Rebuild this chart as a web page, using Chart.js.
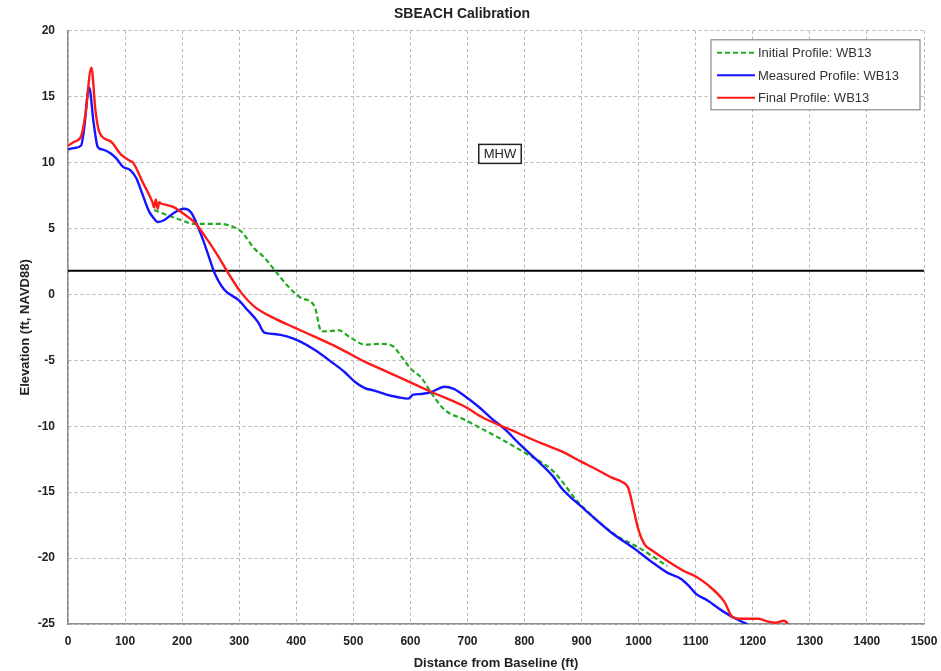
<!DOCTYPE html>
<html>
<head>
<meta charset="utf-8">
<title>SBEACH Calibration</title>
<script src="https://cdn.jsdelivr.net/npm/chart.js@4.4.0/dist/chart.umd.min.js"></script>
<style>
  html, body { margin: 0; padding: 0; background: #fff; }
  #wrap { width: 941px; height: 671px; }
</style>
</head>
<body>
<div id="wrap"><canvas id="profile-chart" width="941" height="671"></canvas></div>
<script>
// profile data (distance ft, elevation ft NAVD88)
const initialX = [151, 175, 198, 221, 245, 268, 291, 304, 326, 344, 361, 386, 408, 432, 444, 467, 473, 496, 520, 549, 570, 584, 602, 619, 637, 660, 695, 719, 760, 800, 850, 895, 958, 1000, 1050];
const initialY = [6.4, 6.0, 5.65, 5.35, 5.35, 5.35, 5.1, 4.75, 3.5, 2.8, 1.9, 0.6, -0.25, -0.9, -2.8, -2.75, -2.7, -3.3, -3.8, -3.75, -3.95, -4.7, -5.7, -6.3, -7.5, -8.76, -9.5, -10.05, -11.0, -12.0, -13.4, -15.8, -18.2, -19.2, -20.6];

const measuredX = [0, 10, 23, 28, 37, 45, 52, 60, 75, 85, 96, 110, 120, 128, 142, 150, 157, 169, 186, 203, 216, 228, 237, 245, 257, 274, 298, 315, 333, 344, 361, 385, 408, 432, 461, 485, 502, 520, 537, 558, 579, 596, 605, 619, 637, 660, 675, 695, 719, 742, 765, 790, 820, 850, 865, 905, 953, 993, 1020, 1050, 1075, 1090, 1100, 1120, 1150, 1170, 1190];
const measuredY = [11.0, 11.1, 11.3, 12.5, 15.7, 13.0, 11.2, 11.0, 10.7, 10.3, 9.7, 9.4, 8.8, 7.9, 6.3, 5.8, 5.5, 5.65, 6.2, 6.5, 6.2, 5.1, 4.1, 3.1, 1.6, 0.35, -0.4, -1.2, -2.1, -2.9, -3.0, -3.2, -3.6, -4.2, -5.1, -5.9, -6.6, -7.1, -7.3, -7.6, -7.8, -7.9, -7.6, -7.55, -7.4, -7.0, -7.15, -7.7, -8.5, -9.4, -10.2, -11.3, -12.5, -13.8, -14.7, -16.3, -18.1, -19.3, -20.2, -21.1, -21.6, -22.2, -22.7, -23.2, -24.1, -24.6, -25.0];

const finalX = [0, 12, 23, 30, 41, 48, 55, 75, 93, 110, 114, 131, 148, 151, 154, 157, 160, 163, 172, 186, 203, 221, 245, 263, 281, 304, 326, 361, 396, 432, 474, 520, 579, 637, 695, 725, 777, 830, 865, 900, 923, 953, 970, 982, 991, 1000, 1011, 1023, 1050, 1080, 1100, 1120, 1150, 1165, 1180, 1210, 1225, 1240, 1255, 1262];
const finalY = [11.3, 11.6, 12.0, 13.5, 17.2, 14.0, 12.3, 11.6, 10.6, 10.1, 10.0, 8.5, 7.0, 6.6, 7.2, 6.5, 7.0, 6.9, 6.8, 6.6, 6.1, 5.5, 4.1, 2.9, 1.6, 0.1, -0.9, -1.8, -2.5, -3.2, -4.05, -5.1, -6.25, -7.4, -8.5, -9.3, -10.3, -11.3, -11.9, -12.7, -13.2, -13.9, -14.2, -14.7, -16.3, -17.9, -19.0, -19.4, -20.2, -21.0, -21.4, -22.0, -23.3, -24.5, -24.6, -24.6, -24.8, -24.9, -24.75, -25.0];

// mean high water
const mhwX = [0, 1500];
const mhwY = [1.8, 1.8];
const mhwLabel = { text: "MHW", x: 757, y: 10.7 };

const seriesNames = ["Initial Profile: WB13", "Measured Profile: WB13", "Final Profile: WB13"];
const xTicks = [0, 1500, 100];
const yTicks = [-25, 20, 5];

const narrow = "'Liberation Sans Narrow', 'Liberation Sans', sans-serif";
const plain = "'Liberation Sans', 'DejaVu Sans', sans-serif";

function toPoints(xs, ys) {
    return xs.map((x, i) => ({ x: x, y: ys[i] }));
}

// legend box + MHW tag, drawn on top of the plot
const annotatePlugin = {
    id: "annotate",
    afterDatasetsDraw(chart) {
        const { ctx, chartArea, scales } = chart;
        ctx.save();

        // MHW label box
        const mx = scales.x.getPixelForValue(mhwLabel.x);
        const my = scales.y.getPixelForValue(mhwLabel.y);
        ctx.font = "13px " + plain;
        const tw = ctx.measureText(mhwLabel.text).width;
        ctx.fillStyle = "#fff";
        ctx.fillRect(mx - tw / 2 - 5, my - 9, tw + 10, 19);
        ctx.strokeStyle = "#222";
        ctx.lineWidth = 1.5;
        ctx.strokeRect(mx - tw / 2 - 5, my - 9, tw + 10, 19);
        ctx.fillStyle = "#222";
        ctx.textAlign = "center";
        ctx.textBaseline = "middle";
        ctx.fillText(mhwLabel.text, mx, my + 1);

        // legend
        const bw = 209, bh = 70;
        const bx = chartArea.right - 4 - bw;
        const by = chartArea.top + 9;
        ctx.fillStyle = "#fff";
        ctx.fillRect(bx, by, bw, bh);
        ctx.strokeStyle = "#8a8a8a";
        ctx.lineWidth = 1.2;
        ctx.strokeRect(bx, by, bw, bh);
        ctx.textAlign = "left";
        ctx.font = "13px " + plain;
        const legendSets = chart.data.datasets.filter(d => seriesNames.includes(d.label));
        legendSets.forEach((ds, i) => {
            const ly = by + 13 + i * 22.5;
            ctx.beginPath();
            ctx.strokeStyle = ds.borderColor;
            ctx.lineWidth = 2;
            ctx.setLineDash(ds.borderDash || []);
            ctx.moveTo(bx + 6, ly);
            ctx.lineTo(bx + 44, ly);
            ctx.stroke();
            ctx.setLineDash([]);
            ctx.fillStyle = "#333";
            ctx.fillText(ds.label, bx + 47, ly + 1);
        });
        ctx.restore();
    }
};

const ctx = document.getElementById("profile-chart").getContext("2d");

new Chart(ctx, {
    type: "line",
    data: {
        datasets: [
            {
                label: "MHW",
                data: toPoints(mhwX, mhwY),
                borderColor: "#000",
                borderWidth: 2,
                pointRadius: 0,
                order: 4,
            },
            {
                label: seriesNames[0],
                data: toPoints(initialX, initialY),
                borderColor: "#1faa1f",
                borderWidth: 2.2,
                borderDash: [5, 3],
                pointRadius: 0,
                cubicInterpolationMode: "monotone",
                order: 3,
            },
            {
                label: seriesNames[1],
                data: toPoints(measuredX, measuredY),
                borderColor: "#1414ff",
                borderWidth: 2.4,
                pointRadius: 0,
                cubicInterpolationMode: "monotone",
                order: 2,
            },
            {
                label: seriesNames[2],
                data: toPoints(finalX, finalY),
                borderColor: "#ff1a1a",
                borderWidth: 2.4,
                pointRadius: 0,
                cubicInterpolationMode: "monotone",
                order: 1,
            },
        ],
    },
    options: {
        responsive: false,
        animation: false,
        layout: { padding: { left: 0, right: 17, top: 0, bottom: 0 } },
        plugins: {
            legend: { display: false },
            tooltip: { enabled: false },
            title: {
                display: true,
                text: "SBEACH Calibration",
                color: "#222",
                font: { family: narrow, size: 14, weight: "bold" },
                padding: { top: 6, bottom: 8 },
            },
        },
        scales: {
            x: {
                type: "linear",
                min: xTicks[0],
                max: xTicks[1],
                afterFit: s => {
                    s.height = 47;
                    s.paddingLeft = 0;
                    s.paddingRight = 0;
                },
                ticks: {
                    stepSize: xTicks[2],
                    padding: 10,
                    color: "#222",
                    font: { family: narrow, size: 12, weight: "bold" },
                    callback: v => String(v),
                },
                grid: {
                    color: "#b5b5b5",
                    lineWidth: 1,
                    drawTicks: false,
                },
                border: { display: true, color: "#8c8c8c", width: 1.5, dash: [3, 3] },
                title: {
                    display: true,
                    text: "Distance from Baseline (ft)",
                    color: "#222",
                    font: { family: narrow, size: 13, weight: "bold" },
                    padding: { top: 1, bottom: 0 },
                },
            },
            y: {
                type: "linear",
                min: yTicks[0],
                max: yTicks[1],
                afterFit: s => { s.width = 68; },
                ticks: {
                    stepSize: yTicks[2],
                    padding: 13,
                    color: "#222",
                    font: { family: narrow, size: 12, weight: "bold" },
                    callback: v => String(v),
                },
                grid: {
                    color: "#b5b5b5",
                    lineWidth: 1,
                    drawTicks: false,
                },
                border: { display: true, color: "#8c8c8c", width: 1.5, dash: [3, 3] },
                title: {
                    display: true,
                    text: "Elevation (ft, NAVD88)",
                    color: "#222",
                    font: { family: narrow, size: 13, weight: "bold" },
                    padding: { top: 18, bottom: 0 },
                },
            },
        },
    },
    plugins: [annotatePlugin],
});
</script>
</body>
</html>
